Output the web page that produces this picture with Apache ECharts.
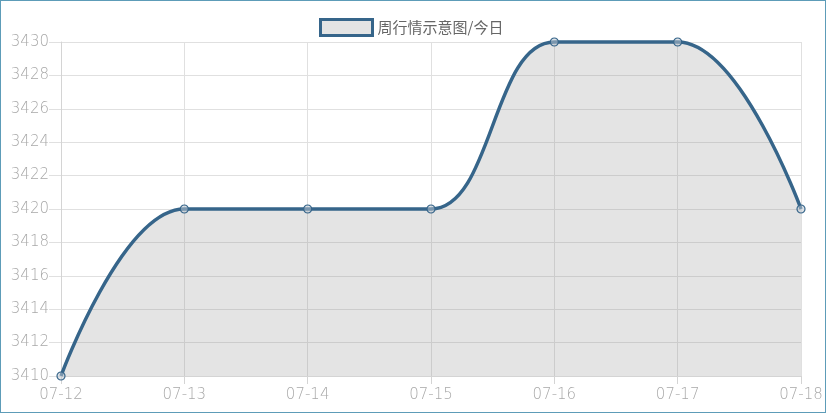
<!DOCTYPE html>
<html>
<head>
<meta charset="utf-8">
<script src="https://cdn.jsdelivr.net/npm/echarts@6/dist/echarts.min.js"></script>
<style>
html,body{margin:0;padding:0;background:#fff;}
#chart{position:absolute;left:0;top:0;width:827px;height:416px;}
#frame{position:absolute;left:0;top:0;width:824px;height:411px;border:1px solid #5d9cb8;pointer-events:none;}
</style>
</head>
<body>
<div id="chart"></div>
<div id="frame"></div>
<script>
const categories = ['07-12', '07-13', '07-14', '07-15', '07-16', '07-17', '07-18'];
const values = [3410, 3420, 3420, 3420, 3430, 3430, 3420];
const seriesName = '周行情示意图/今日';
const yMin = 3410, yMax = 3430, yStep = 2;

const lineColor = '#36658a';
const gridColor = '#e0e0e0';
const labelFont = { color: '#a8a8a8', fontFamily: 'DejaVu Sans', fontSize: 15, fontWeight: 200 };

const chart = echarts.init(document.getElementById('chart'));
chart.setOption({
  animation: false,
  legend: {
    data: [{ name: seriesName, icon: 'rect' }],
    left: 314, top: 13,
    itemWidth: 52, itemHeight: 16,
    itemStyle: { color: '#e4e4e4', borderColor: lineColor, borderWidth: 3 },
    textStyle: { color: '#666', fontSize: 15, fontFamily: 'Noto Sans CJK SC' }
  },
  grid: { left: 61, right: 26, top: 42, bottom: 40, containLabel: false },
  xAxis: {
    type: 'category', data: categories, boundaryGap: false,
    axisLine: { show: true, lineStyle: { color: '#d4d4d4', width: 1 } },
    axisTick: { show: true, length: 8, lineStyle: { color: '#d4d4d4' } },
    splitLine: { show: true, lineStyle: { color: gridColor, width: 1 } },
    axisLabel: Object.assign({ margin: 12 }, labelFont)
  },
  yAxis: {
    type: 'value', min: yMin, max: yMax, interval: yStep,
    axisLine: { show: true, lineStyle: { color: '#d4d4d4', width: 1 } },
    axisTick: { show: true, length: 12, lineStyle: { color: gridColor } },
    splitLine: { show: true, lineStyle: { color: gridColor, width: 1 } },
    axisLabel: Object.assign({ margin: 12, formatter: v => String(v) }, labelFont)
  },
  series: [{
    name: seriesName, type: 'line', data: values,
    smooth: 0.4, clip: false,
    symbol: 'circle', symbolSize: 8, showSymbol: true,
    lineStyle: { color: lineColor, width: 3.5 },
    itemStyle: { color: 'rgba(190,200,210,0.5)', borderColor: lineColor, borderWidth: 1.2 },
    areaStyle: { color: 'rgba(130,130,130,0.22)', opacity: 1, origin: 'start' }
  }]
});
</script>
</body>
</html>
